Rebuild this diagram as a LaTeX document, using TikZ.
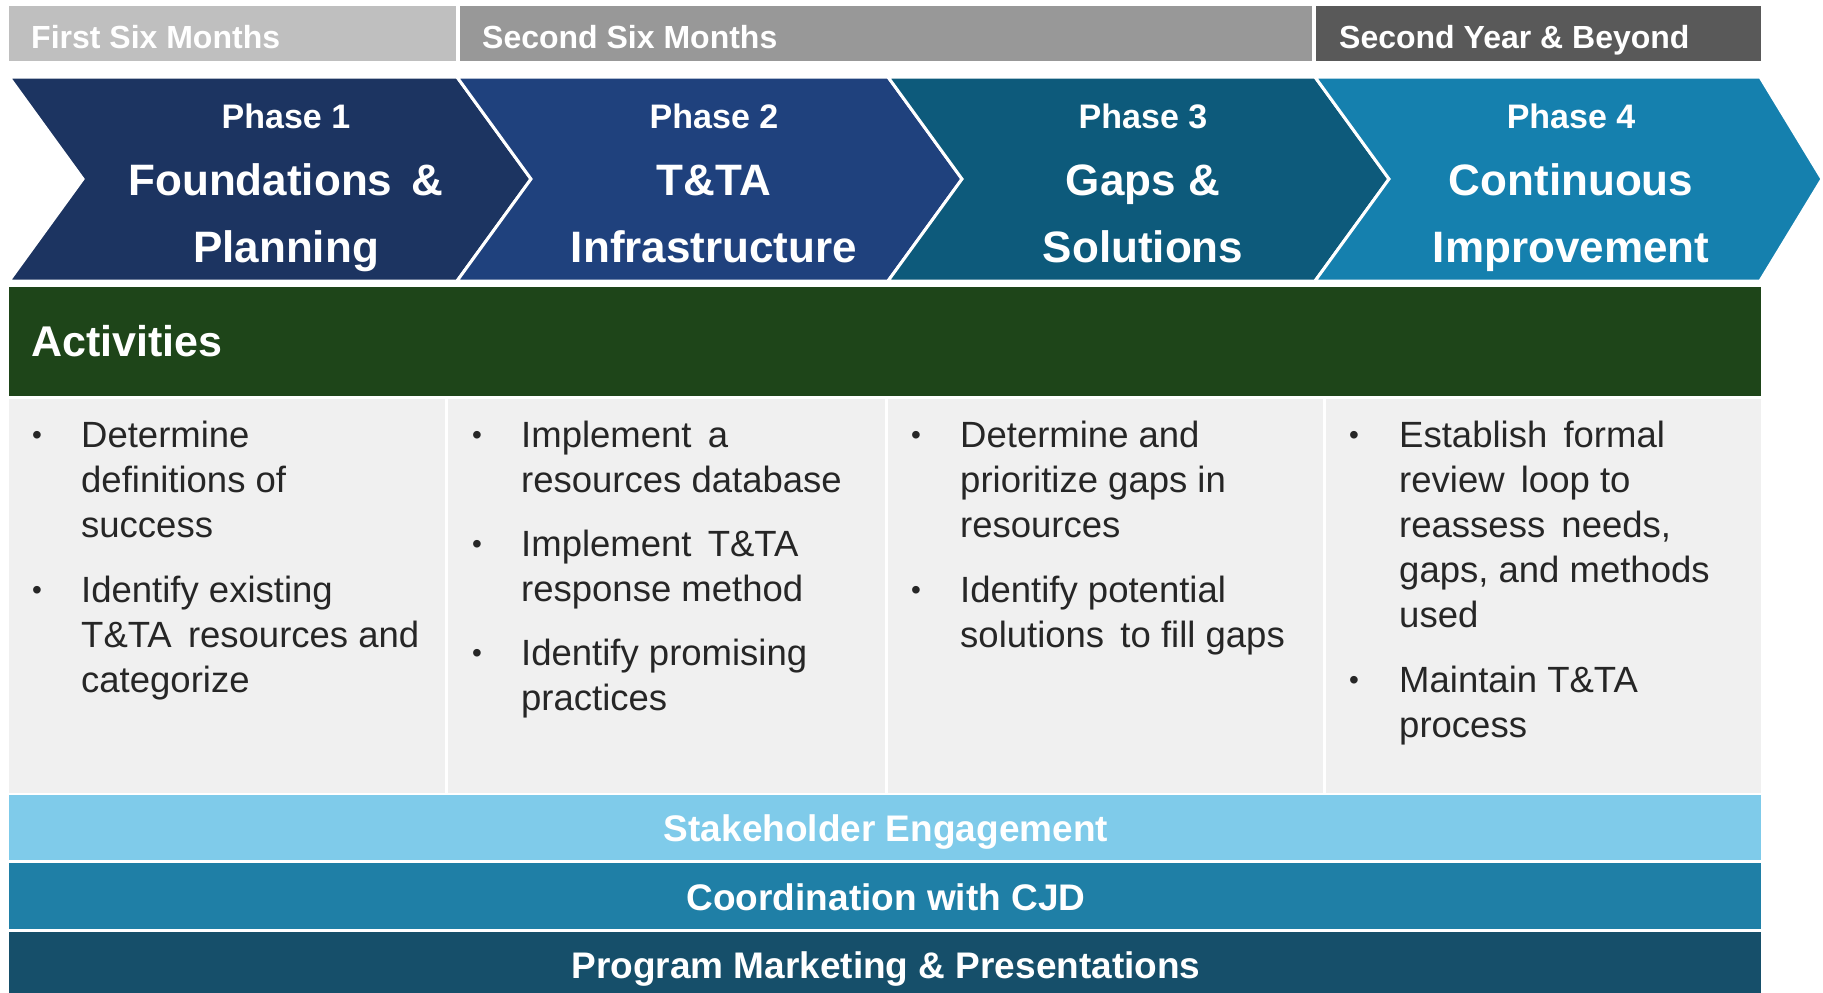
\documentclass[tikz,border=0pt]{standalone}
\usepackage{fontspec}
\setmainfont{Liberation Sans}
\definecolor{segA}{HTML}{BFBFBF}
\definecolor{segB}{HTML}{989898}
\definecolor{segC}{HTML}{595959}
\definecolor{chA}{HTML}{1C3461}
\definecolor{chB}{HTML}{1F417D}
\definecolor{chC}{HTML}{0D5A7B}
\definecolor{chD}{HTML}{1580AE}
\definecolor{actgreen}{HTML}{1E4519}
\definecolor{panel}{HTML}{F0F0F0}
\definecolor{bandA}{HTML}{7FCBEA}
\definecolor{bandB}{HTML}{1F7FA6}
\definecolor{bandC}{HTML}{164F6A}
\definecolor{bodytext}{HTML}{262626}
\begin{document}
\begin{tikzpicture}[x=1pt,y=-1pt,
  chev/.style={draw=white,line width=3pt,line join=miter},
  seglabel/.style={anchor=base west,inner sep=0pt,text=white,font=\bfseries\fontsize{32}{32}\selectfont},
  phasehead/.style={anchor=base,inner sep=0pt,text=white,font=\bfseries\fontsize{34}{34}\selectfont},
  phasetitle/.style={anchor=base,inner sep=0pt,text=white,align=center,font=\bfseries\fontsize{44}{67}\selectfont},
  bandlabel/.style={anchor=base,inner sep=0pt,text=white,font=\bfseries\fontsize{37}{37}\selectfont},
  itemtext/.style={anchor=base west,inner sep=0pt,text=bodytext,align=left,font=\fontsize{36.5}{45}\selectfont},
  bul/.style={anchor=base,inner sep=0pt,text=bodytext,font=\fontsize{28}{28}\selectfont}
]
\useasboundingbox (0,0) rectangle (1823,993);
% time bar
\fill[segA] (9,6) rectangle (456,61);
\fill[segB] (460,6) rectangle (1312,61);
\fill[segC] (1316,6) rectangle (1761,61);
\node[seglabel] (t1) at (31,48) {First Six Months};
\node[seglabel] (t2) at (482,48) {Second Six Months};
\node[seglabel] (t3) at (1339,48) {Second Year \& Beyond};
% chevrons
\fill[chA,chev] (9,77) -- (457,77) -- (531,179) -- (457,281) -- (9,281) -- (83,179) -- cycle;
\fill[chB,chev] (457,77) -- (888,77) -- (962,179) -- (888,281) -- (457,281) -- (531,179) -- cycle;
\fill[chC,chev] (888,77) -- (1315,77) -- (1389,179) -- (1315,281) -- (888,281) -- (962,179) -- cycle;
\fill[chD,chev] (1315,77) -- (1760,77) -- (1822,179) -- (1760,281) -- (1315,281) -- (1389,179) -- cycle;
\node[phasehead] (h1) at (286,128) {Phase 1};
\node[phasehead] (h2) at (714,128) {Phase 2};
\node[phasehead] (h3) at (1143,128) {Phase 3};
\node[phasehead] (h4) at (1571,128) {Phase 4};
% multi-line nodes: base anchor = baseline of last line
\node[phasetitle] (p1) at (286,262) {Foundations \,\&\\Planning};
\node[phasetitle] (p2) at (714,262) {T\&TA\\Infrastructure};
\node[phasetitle] (p3) at (1143,262) {Gaps \&\\Solutions};
\node[phasetitle] (p4) at (1571,262) {Continuous\\Improvement};
% activities bar
\fill[actgreen] (9,287) rectangle (1761,396);
\node[anchor=base west,inner sep=0pt,text=white,font=\bfseries\fontsize{43}{43}\selectfont] (act) at (31,356) {Activities};
% panel
\fill[panel] (9,399) rectangle (1761,793);
\foreach \xx in {446,886,1324} \draw[white,line width=3pt] (\xx,399) -- (\xx,793);
% column 1
\node[bul] (b1a) at (37,444) {•};
\node[itemtext] (c1a) at (81,537) {Determine\\definitions of\\success};
\node[bul] (b1b) at (37,599) {•};
\node[itemtext] (c1b) at (81,692) {Identify existing\\T\&TA \,resources and\\categorize};
% column 2
\node[bul] (b2a) at (477,444) {•};
\node[itemtext] (c2a) at (521,492) {Implement \,a\\resources database};
\node[bul] (b2b) at (477,553) {•};
\node[itemtext] (c2b) at (521,601) {Implement \,T\&TA\\response method};
\node[bul] (b2c) at (477,662) {•};
\node[itemtext] (c2c) at (521,710) {Identify promising\\practices};
% column 3
\node[bul] (b3a) at (916,444) {•};
\node[itemtext] (c3a) at (960,537) {Determine and\\prioritize gaps in\\resources};
\node[bul] (b3b) at (916,599) {•};
\node[itemtext] (c3b) at (960,647) {Identify potential\\solutions \,to fill gaps};
% column 4
\node[bul] (b4a) at (1354,444) {•};
\node[itemtext] (c4a) at (1399,627) {Establish \,formal\\review \,loop to\\reassess \,needs,\\gaps, and methods\\used};
\node[bul] (b4b) at (1354,689) {•};
\node[itemtext] (c4b) at (1399,737) {Maintain T\&TA\\process};
% bands
\fill[bandA] (9,795) rectangle (1761,860);
\fill[bandB] (9,863) rectangle (1761,929);
\fill[bandC] (9,932) rectangle (1761,993);
\node[bandlabel] (s1) at (886,841) {Stakeholder Engagement};
\node[bandlabel] (s2) at (886,910) {Coordination with CJD};
\node[bandlabel] (s3) at (886,978) {Program Marketing \& Presentations};
\end{tikzpicture}
\end{document}
